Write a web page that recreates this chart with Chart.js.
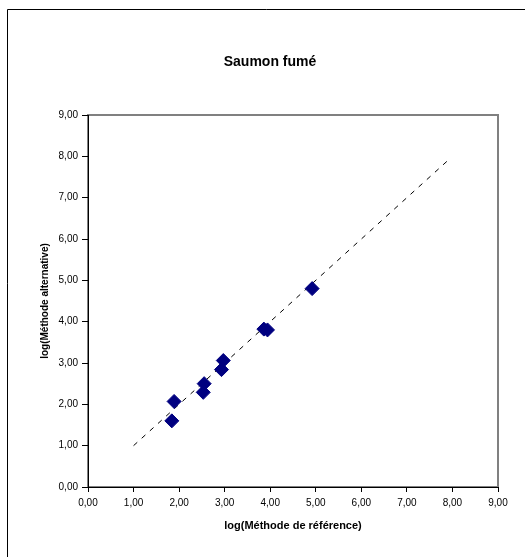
<!DOCTYPE html>
<html>
<head>
<meta charset="utf-8">
<script src="https://cdn.jsdelivr.net/npm/chart.js@4"></script>
<style>
  html,body{margin:0;padding:0;background:#fff;}
  canvas{display:block;}
</style>
</head>
<body>
<canvas id="chart" width="525" height="557"></canvas>
<script>
// values
const refX = [1.84, 1.89, 2.53, 2.55, 2.93, 2.97, 3.86, 3.94, 4.92];
const altY = [1.60, 2.07, 2.29, 2.50, 2.84, 3.06, 3.82, 3.80, 4.80];
const lineX = [1.0, 7.9];
const lineY = [1.0, 7.9];
const axisMin = 0, axisMax = 9, axisStep = 1;

const titleText = 'Saumon fumé';
const xTitle = 'log(Méthode de référence)';
const yTitle = 'log(Méthode alternative)';

const fmt = v => v.toFixed(2).replace('.', ',');
const FONT = 'Liberation Sans, Arial, sans-serif';

// outer frame, grey plot area border and the chart title
const framePlugin = {
  id: 'frame',
  beforeDraw(chart){
    const {ctx, chartArea: a} = chart;
    ctx.save();
    ctx.fillStyle = '#fff';
    ctx.fillRect(0, 0, chart.width, chart.height);
    ctx.strokeStyle = '#000';
    ctx.lineWidth = 1;
    ctx.beginPath();
    ctx.moveTo(7.5, chart.height);
    ctx.lineTo(7.5, 9.5);
    ctx.lineTo(chart.width, 9.5);
    ctx.stroke();
    ctx.strokeStyle = '#808080';
    ctx.lineWidth = 2;
    ctx.strokeRect(a.left, a.top, a.right - a.left, a.bottom - a.top);
    ctx.fillStyle = '#000';
    ctx.font = 'bold 14px ' + FONT;
    ctx.textAlign = 'center';
    ctx.textBaseline = 'middle';
    ctx.fillText(titleText, 270, 62);
    ctx.restore();
  }
};

new Chart(document.getElementById('chart'), {
  type: 'scatter',
  data: {
    datasets: [
      {
        label: 'points',
        data: refX.map((x, i) => ({x, y: altY[i]})),
        pointStyle: 'rectRot',
        pointRadius: 7,
        backgroundColor: '#000080',
        borderColor: '#000080',
        borderWidth: 1
      },
      {
        label: 'y = x',
        type: 'line',
        data: lineX.map((x, i) => ({x, y: lineY[i]})),
        showLine: true,
        borderColor: '#000',
        borderWidth: 1,
        borderDash: [5, 6],
        pointRadius: 0,
        fill: false
      }
    ]
  },
  options: {
    responsive: false,
    animation: false,
    devicePixelRatio: 1,
    layout: { padding: { left: 0, top: 115, right: 27, bottom: 0 } },
    plugins: {
      legend: { display: false },
      tooltip: { enabled: false },
      title: { display: false }
    },
    scales: {
      x: {
        type: 'linear',
        min: axisMin, max: axisMax,
        afterFit: s => { s.height = 70; },
        border: { display: true, color: '#000', width: 1 },
        grid: { drawOnChartArea: false, drawTicks: true, tickLength: 5, color: '#000' },
        ticks: { stepSize: axisStep, color: '#000', padding: 5, maxRotation: 0,
                 font: { family: FONT, size: 10 }, callback: v => fmt(v) },
        title: { display: true, text: xTitle, color: '#000',
                 font: { family: FONT, size: 11, weight: 'bold' },
                 padding: { top: 0, bottom: 24 } }
      },
      y: {
        type: 'linear',
        min: axisMin, max: axisMax,
        afterFit: s => { s.width = 88; },
        border: { display: true, color: '#000', width: 1 },
        grid: { drawOnChartArea: false, drawTicks: true, tickLength: 6, color: '#000' },
        ticks: { stepSize: axisStep, color: '#000', padding: 4,
                 font: { family: FONT, size: 10 }, callback: v => fmt(v) },
        title: { display: true, text: yTitle, color: '#000',
                 font: { family: FONT, size: 10, weight: 'bold' },
                 padding: { top: 39, bottom: 0 } }
      }
    }
  },
  plugins: [framePlugin]
});
</script>
</body>
</html>
